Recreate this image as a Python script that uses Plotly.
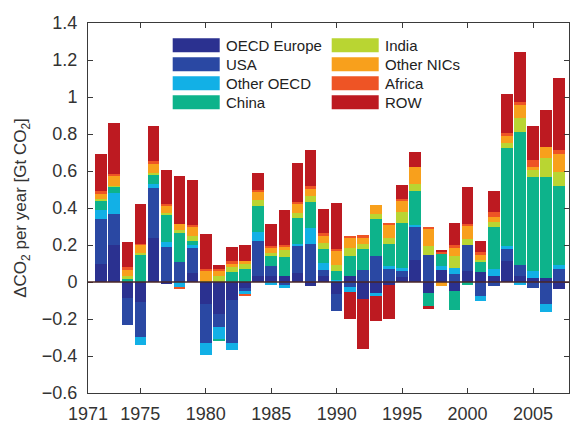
import plotly.graph_objects as go

# ---------------- data ----------------
years = list(range(1972, 2008))

oecd_europe = [0.10, 0.20, -0.086, -0.11, 0.237, -0.01, 0.0, 0.05, -0.118, -0.175,
               -0.095, -0.03, 0.034, 0.03, 0.03, 0.048, -0.023, 0.03, -0.065, 0.03,
               -0.09, -0.06, -0.015, 0.025, 0.12, -0.06, 0.066, -0.047, 0.06, 0.054,
               0.03, 0.115, 0.03, 0.02, 0.02, -0.036]
usa = [0.24, 0.17, -0.149, -0.186, 0.269, 0.19, 0.11, 0.136, -0.21, -0.07,
       -0.235, -0.02, 0.185, 0.054, -0.018, 0.147, 0.204, 0.036, -0.093, -0.025,
       0.066, 0.143, 0.07, 0.035, 0.18, 0.147, 0.0, 0.043, 0.14, -0.077,
       -0.02, 0.065, 0.063, -0.032, -0.117, 0.07]
other_oecd = [0.05, 0.11, 0.0, -0.045, 0.023, 0.027, -0.027, 0.014, -0.068, -0.068,
              -0.04, -0.014, 0.054, -0.018, -0.014, 0.01, 0.086, 0.036, 0.01, -0.03,
              0.0, -0.018, 0.018, 0.014, 0.01, 0.0, 0.018, 0.032, 0.0, -0.027,
              0.04, 0.016, -0.018, 0.04, -0.047, 0.023]
china = [0.05, 0.036, 0.018, 0.147, 0.047, 0.147, 0.16, 0.023, 0.0, -0.007,
         0.054, 0.07, 0.14, 0.054, 0.107, 0.14, 0.143, 0.075, 0.05, 0.113,
         0.11, 0.2, 0.116, 0.245, 0.18, -0.07, 0.07, -0.107, -0.014, 0.054,
         0.23, 0.526, 0.717, 0.51, 0.55, 0.427]
india = [0.01, 0.005, 0.016, 0.009, 0.014, 0.01, 0.01, 0.025, 0.005, 0.03,
         0.027, 0.027, 0.03, 0.018, 0.036, 0.03, 0.032, 0.036, 0.032, 0.043,
         0.027, 0.025, 0.032, 0.06, 0.04, 0.045, 0.0, 0.063, 0.03, 0.013,
         0.027, 0.027, 0.077, 0.036, 0.099, 0.072]
other_nics = [0.03, 0.057, 0.036, 0.045, 0.05, 0.04, 0.036, 0.05, 0.052, 0.027,
              0.02, 0.015, 0.045, 0.027, 0.02, 0.047, 0.04, 0.041, 0.08, 0.054,
              0.036, 0.05, 0.075, 0.06, 0.09, 0.095, -0.023, 0.045, 0.077, 0.023,
              0.027, 0.04, 0.072, 0.018, 0.063, 0.099]
africa = [0.01, 0.005, 0.01, 0.005, 0.014, 0.009, -0.008, 0.012, 0.014, 0.013,
          0.01, -0.014, 0.009, 0.013, 0.009, 0.009, 0.012, 0.009, 0.005, 0.01,
          0.014, 0.0, 0.009, 0.007, 0.0, 0.013, 0.01, 0.018, 0.009, 0.016,
          0.027, 0.014, 0.016, 0.036, 0.0, 0.022]
row = [0.20, 0.275, 0.134, 0.213, 0.188, 0.18, 0.255, 0.24, 0.19, 0.023,
       0.08, 0.088, 0.09, 0.12, 0.185, 0.213, 0.194, 0.13, 0.25, -0.147,
       -0.274, -0.135, -0.187, 0.077, 0.084, -0.018, 0.01, 0.116, 0.2, 0.06,
       0.113, 0.215, 0.27, 0.185, 0.197, 0.39]

series_names = ["OECD Europe", "USA", "Other OECD", "China",
                "India", "Other NICs", "Africa", "ROW"]
series_values = [oecd_europe, usa, other_oecd, china,
                 india, other_nics, africa, row]
series_colors = ["#2b3190", "#2a48a3", "#12b0e6", "#0db38b",
                 "#b9d532", "#f8a01c", "#ee5425", "#bd1a21"]

x_tick_vals = [1971, 1975, 1980, 1985, 1990, 1995, 2000, 2005]
y_title = "ΔCO<sub>2</sub> per year [Gt CO<sub>2</sub>]"

# ---------------- layout constants ----------------
W, H = 571, 423
ML, MR, MT, MB = 88, 2, 23, 30
PW, PH = W - ML - MR, H - MT - MB
FONT = "Liberation Sans, Arial, sans-serif"
AXIS_COLOR = "#3a3a3a"
TEXT_COLOR = "#333333"


def px_x(px):
    return (px - ML) / PW


def px_y(py):
    return 1 - (py - MT) / PH


fig = go.Figure()
for name, vals, col in zip(series_names, series_values, series_colors):
    fig.add_trace(go.Bar(
        x=years, y=vals, name=name, width=0.88,
        marker=dict(color=col, line=dict(width=0)),
        showlegend=False,
    ))

# manual two-column legend with wide swatches
legend_rows_py = [45.3, 64.3, 83.3, 102.3]
legend_cols_px = [172.7, 331.7]
sw_w, sw_h, txt_gap = 47, 14, 4
shapes = []
annotations = []
for i, (name, col) in enumerate(zip(series_names, series_colors)):
    c, r = divmod(i, 4)
    x0 = legend_cols_px[c]
    yc = legend_rows_py[r]
    shapes.append(dict(type="rect", xref="paper", yref="paper",
                       x0=px_x(x0), x1=px_x(x0 + sw_w),
                       y0=px_y(yc + sw_h / 2), y1=px_y(yc - sw_h / 2),
                       fillcolor=col, line=dict(width=0), layer="above"))
    annotations.append(dict(xref="paper", yref="paper",
                            x=px_x(x0 + sw_w + txt_gap), y=px_y(yc),
                            xanchor="left", yanchor="middle", showarrow=False,
                            text=name, font=dict(family=FONT, size=15, color="#222222")))

# zero baseline above the bars
shapes.append(dict(type="line", xref="paper", yref="y", x0=0, x1=1, y0=0, y1=0,
                   line=dict(color="#4a2626", width=1.5), layer="above"))

fig.update_layout(
    width=W, height=H,
    margin=dict(l=ML, r=MR, t=MT, b=MB, pad=0),
    barmode="relative", bargap=0,
    paper_bgcolor="white", plot_bgcolor="white",
    font=dict(family=FONT, size=18, color=TEXT_COLOR),
    shapes=shapes, annotations=annotations,
    showlegend=False,
)
fig.update_xaxes(
    range=[1971, 2007.75], tickvals=x_tick_vals,
    ticks="inside", ticklen=5, tickcolor=AXIS_COLOR, mirror="ticks",
    showline=True, linecolor=AXIS_COLOR, linewidth=1,
    showgrid=False, zeroline=False, tickfont=dict(size=18),
    ticklabelstandoff=4, automargin=False,
)
fig.update_yaxes(
    range=[-0.6, 1.4], tick0=0, dtick=0.2,
    ticks="inside", ticklen=5, tickcolor=AXIS_COLOR, mirror="ticks",
    showline=True, linecolor=AXIS_COLOR, linewidth=1,
    showgrid=False, zeroline=False, tickfont=dict(size=18),
    ticklabelstandoff=6, automargin=False,
    title=dict(text=y_title, font=dict(size=17), standoff=10),
)

fig.write_html("out.html")
